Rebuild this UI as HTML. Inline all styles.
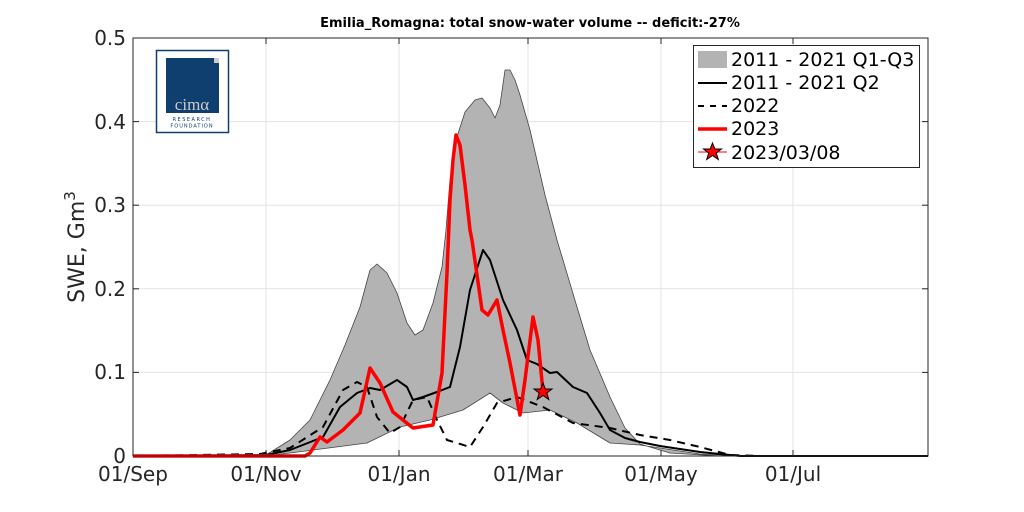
<!DOCTYPE html>
<html><head><meta charset="utf-8"><style>body{margin:0;background:#fff}svg{display:block}</style></head><body>
<svg width="1024" height="512" xmlns="http://www.w3.org/2000/svg" font-family="'DejaVu Sans','Liberation Sans',sans-serif">
<rect width="1024" height="512" fill="#fff"/>
<g stroke="#e3e3e3" stroke-width="1">
<line x1="266" y1="38" x2="266" y2="456"/><line x1="399" y1="38" x2="399" y2="456"/><line x1="528" y1="38" x2="528" y2="456"/><line x1="661" y1="38" x2="661" y2="456"/><line x1="793" y1="38" x2="793" y2="456"/>
<line x1="133" y1="372.4" x2="928" y2="372.4"/><line x1="133" y1="288.8" x2="928" y2="288.8"/><line x1="133" y1="205.2" x2="928" y2="205.2"/><line x1="133" y1="121.6" x2="928" y2="121.6"/>
</g>
<polygon fill="#b3b3b3" stroke="#444" stroke-width="0.8" stroke-linejoin="round" points="133,456 266,455 290,440 310,420 330,380 345,345 360,307 370,270 377,264 387,273 397,293 407,323 415,335 423,330 433,303 442,267 446,230 450,180 456,140 465,112 475,100 482,98 490,108 495,118 500,105 505,70 510,70 515,80 520,95 530,130 545,195 557,240 577,307 590,350 610,397 625,428 640,444 670,453 720,456 928,456 750,456 700,454 660,448 640,445 610,443 577,423 550,410 523,413 503,403 490,393 463,410 430,420 400,427 367,443 290,453 266,456"/>
<polyline fill="none" stroke="#000" stroke-width="2" stroke-linejoin="round" points="133,456 266,455 290,450 323,437 340,407 357,393 370,388 380,390 397,380 407,387 413,400 423,397 437,392 450,387 460,347 470,290 483,250 490,260 503,300 517,330 527,360 537,364 550,373 557,372 573,387 587,393 600,413 610,430 625,438 640,442 660,446 700,452 740,456 928,456"/>
<polyline fill="none" stroke="#000" stroke-width="2" stroke-dasharray="8,6" stroke-linejoin="round" points="133,456 260,454 290,448 323,427 343,390 357,382 367,387 377,417 390,433 400,427 413,400 427,397 437,420 447,440 470,447 483,427 497,403 517,397 543,407 573,423 610,428 640,435 670,440 700,447 730,455 760,456 928,456"/>
<polyline fill="none" stroke="#f00" stroke-width="3.5" stroke-linejoin="round" points="133,456 305,456 310,453 320,437 327,442 343,430 360,413 370,368 380,383 393,412 413,428 433,425 442,373 447,273 450,200 453,160 456,135 460,145 465,185 470,230 472,240 482,310 488,315 497,300 503,330 510,363 520,415 525,380 533,317 538,340 543,392"/>
<polygon fill="#f00" stroke="#000" stroke-width="1" points="543,383 545.4,389 552,389 546.8,393 548.8,399.5 543,395.5 537.2,399.5 539.2,393 534,389 540.6,389"/>
<rect x="133" y="38" width="795" height="418" fill="none" stroke="#262626" stroke-width="1"/>
<g stroke="#262626"><line x1="266" y1="456" x2="266" y2="450"/><line x1="399" y1="456" x2="399" y2="450"/><line x1="528" y1="456" x2="528" y2="450"/><line x1="661" y1="456" x2="661" y2="450"/><line x1="793" y1="456" x2="793" y2="450"/>
<line x1="266" y1="38" x2="266" y2="44"/><line x1="399" y1="38" x2="399" y2="44"/><line x1="528" y1="38" x2="528" y2="44"/><line x1="661" y1="38" x2="661" y2="44"/><line x1="793" y1="38" x2="793" y2="44"/>
<line x1="133" y1="372.4" x2="139" y2="372.4"/><line x1="133" y1="288.8" x2="139" y2="288.8"/><line x1="133" y1="205.2" x2="139" y2="205.2"/><line x1="133" y1="121.6" x2="139" y2="121.6"/>
<line x1="928" y1="372.4" x2="922" y2="372.4"/><line x1="928" y1="288.8" x2="922" y2="288.8"/><line x1="928" y1="205.2" x2="922" y2="205.2"/><line x1="928" y1="121.6" x2="922" y2="121.6"/></g>
<g font-size="20" fill="#262626" text-anchor="end"><text x="126" y="463">0</text><text x="126" y="379">0.1</text><text x="126" y="296">0.2</text><text x="126" y="212">0.3</text><text x="126" y="129">0.4</text><text x="126" y="45">0.5</text></g>
<g font-size="20" fill="#262626" text-anchor="middle"><text x="133" y="481">01/Sep</text><text x="266" y="481">01/Nov</text><text x="399" y="481">01/Jan</text><text x="528" y="481">01/Mar</text><text x="661" y="481">01/May</text><text x="793" y="481">01/Jul</text></g>
<text x="530" y="27" font-size="13" font-weight="bold" text-anchor="middle" fill="#000">Emilia_Romagna: total snow-water volume -- deficit:-27%</text>
<text transform="translate(84,247) rotate(-90)" font-size="22" fill="#262626" text-anchor="middle">SWE, Gm<tspan font-size="15" dy="-9">3</tspan></text>
<rect x="156.5" y="50.5" width="72" height="82" fill="#fff" stroke="#0e3f6e" stroke-width="1.5"/>
<rect x="166" y="58" width="53" height="55" fill="#0e3f6e"/>
<rect x="214" y="58" width="5" height="5" fill="#ccc"/>
<text x="192" y="110" font-family="'Liberation Serif',serif" font-size="17" fill="#ccc" text-anchor="middle">cimα</text>
<text x="192" y="121" font-size="5" fill="#0e3f6e" text-anchor="middle" letter-spacing="1.5">RESEARCH</text>
<text x="192" y="127.5" font-size="5" fill="#0e3f6e" text-anchor="middle" letter-spacing="1">FOUNDATION</text>
<rect x="693.5" y="45.5" width="226" height="122" fill="#fff" stroke="#262626" stroke-width="1"/>
<rect x="698" y="51" width="29" height="17" fill="#b3b3b3"/>
<line x1="698" y1="83" x2="727" y2="83" stroke="#000" stroke-width="2"/>
<line x1="698" y1="106" x2="727" y2="106" stroke="#000" stroke-width="2" stroke-dasharray="6,6"/>
<line x1="698" y1="129" x2="727" y2="129" stroke="#f00" stroke-width="3.5"/>
<line x1="698" y1="152" x2="727" y2="152" stroke="#f00" stroke-width="1"/>
<polygon fill="#f00" stroke="#000" stroke-width="1" points="712.5,143 714.9,149 721.5,149 716.3,153 718.3,159.5 712.5,155.5 706.7,159.5 708.7,153 703.5,149 710.1,149"/>
<g font-size="19" fill="#000"><text x="731" y="66">2011 - 2021 Q1-Q3</text><text x="731" y="89">2011 - 2021 Q2</text><text x="731" y="112">2022</text><text x="731" y="135">2023</text><text x="731" y="159">2023/03/08</text></g>
</svg>
</body></html>
